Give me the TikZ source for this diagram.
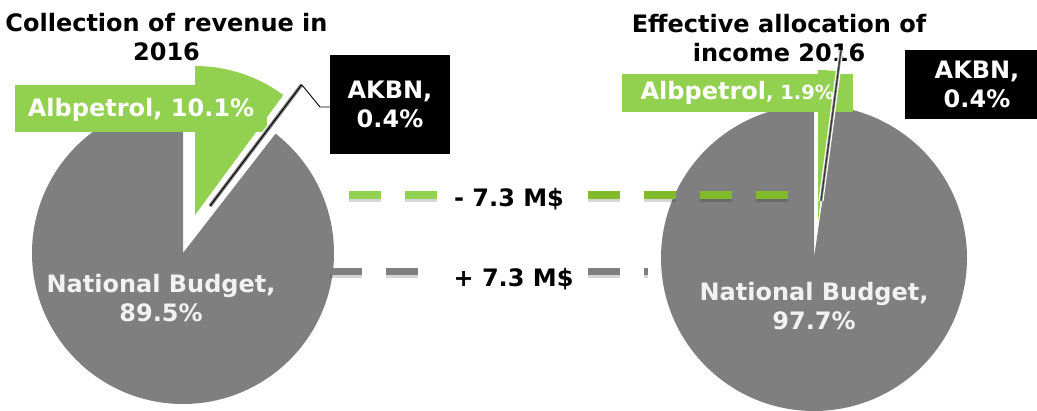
\documentclass[tikz,border=0pt]{standalone}
\usepackage{fontspec}
\setmainfont{DejaVu Sans}
\definecolor{pgray}{HTML}{7F7F7F}
\definecolor{pgreen}{HTML}{92D050}
\definecolor{dgreen}{HTML}{80BB2C}
\definecolor{lbl}{HTML}{F2F2F2}
\begin{document}
\begin{tikzpicture}[x=1pt,y=1pt,
  txt/.style={font=\fontsize{24}{29.5}\selectfont\bfseries, inner sep=0pt, align=center},
  greenbox/.style={txt, fill=pgreen, text=white, text depth=0pt},
  blackbox/.style={txt, fill=black, text=white},
  dashln/.style={line width=7.5pt, dash pattern=on 32pt off 24pt},
  dashsh/.style={dashln, draw=black, opacity=0.16, transform canvas={yshift=-3pt}}]
\useasboundingbox (0,0) rectangle (1037,-411);

% titles (base = baseline of the last line)
\node[txt, anchor=base] (titleL) at (166.5,-61) {Collection of revenue in\\2016};
\node[txt, anchor=base] (titleR) at (779,-62) {Effective allocation of\\income 2016};

% left pie
\coordinate (cL) at (183,-253);
\coordinate (gL) at (195,-215);
\coordinate (aL) at (210,-206);
\fill[pgray] (cL) -- ++(90:151) arc[start angle=90,end angle=412.2,radius=151] -- cycle;
\fill[pgreen] (gL) -- ++(53.64:149) arc[start angle=53.64,end angle=90,radius=149] -- cycle;

% right pie
\coordinate (cR) at (814,-258);
\coordinate (gR) at (818,-222);
\coordinate (aR) at (821,-201);
\fill[pgray] (cR) -- ++(90:153) arc[start angle=90,end angle=441.72,radius=153] -- cycle;
\fill[pgreen] (gR) -- ++(83.16:152) arc[start angle=83.16,end angle=90,radius=152] -- cycle;

% dashed transfer lines
\coordinate (gA) at (349,-195);
\coordinate (gB) at (445,-195);
\coordinate (gC) at (588,-195);
\coordinate (gD) at (795,-195);
\coordinate (kA) at (330,-271.5);
\coordinate (kB) at (430,-271.5);
\coordinate (kC) at (588,-271.5);
\coordinate (kD) at (648,-271.5);
\draw[dashsh] (gA) -- (gB);
\draw[dashsh] (gC) -- (gD);
\draw[dashsh] (kA) -- (kB);
\draw[dashsh] (kC) -- (kD);
\draw[dashln, pgreen] (gA) -- (gB);
\draw[dashln, dgreen] (gC) -- (gD);
\draw[dashln, pgray] (kA) -- (kB);
\draw[dashln, pgray] (kC) -- (kD);
\node[txt, anchor=base] (minus) at (509,-207) {- 7.3 M\$};
\node[txt, anchor=base] (plus) at (513.5,-287) {+ 7.3 M\$};

% pie labels
\node[txt, text=lbl, anchor=base] (nbL) at (161,-322) {National Budget,\\89.5\%};
\node[txt, text=lbl, anchor=base] (nbR) at (814,-330) {National Budget,\\97.7\%};
\node[greenbox, text height=17pt, minimum width=252pt, minimum height=47pt] (alL) at (141,-108.5) {Albpetrol, 10.1\%};
\node[greenbox, text height=14pt, minimum width=231pt, minimum height=38pt] (alR) at (737.5,-93) {Albpetrol{\fontsize{19.5}{22}\selectfont, 1.9\%}};

% AKBN slices (exploded, very thin)
\foreach \w/\c in {6/white,3.5/pgray,1/black}{
  \draw[line width=\w pt, color=\c] (aL) -- ++(52.92:152);
}
\foreach \w/\c in {5/white,2.5/pgray,1/black!80}{
  \draw[line width=\w pt, color=\c] (aR) -- ++(82.44:152);
}
\coordinate (tipL) at (302,-85);
\coordinate (kneeL) at (320,-107);

% AKBN boxes
\node[blackbox, minimum width=120pt, minimum height=99pt] (akL) at (390,-104.5) {AKBN,\\0.4\%};
\node[blackbox, minimum width=144pt, minimum height=69pt] (akR) at (977,-84.5) {AKBN,\\0.4\%};
\draw[line width=0.9pt] (tipL) -- (kneeL) -- (kneeL -| akL.west);
\end{tikzpicture}
\end{document}
